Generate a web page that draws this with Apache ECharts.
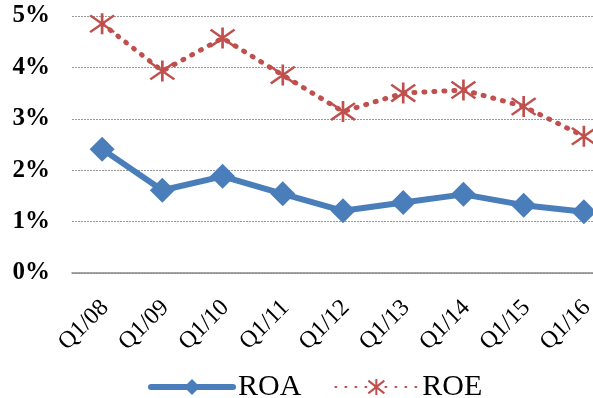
<!DOCTYPE html>
<html>
<head>
<meta charset="utf-8">
<script src="https://cdn.jsdelivr.net/npm/echarts@6/dist/echarts.min.js"></script>
<style>
  html, body { margin: 0; padding: 0; background: #fff; }
  #chart { width: 593px; height: 398px; }
</style>
</head>
<body>
<div id="chart"></div>
<script>
// quarters on the x axis
const quarters = ['Q1/08', 'Q1/09', 'Q1/10', 'Q1/11', 'Q1/12', 'Q1/13', 'Q1/14', 'Q1/15', 'Q1/16'];
// values in percent
const roa = [2.41, 1.61, 1.88, 1.54, 1.21, 1.37, 1.53, 1.32, 1.19];
const roe = [4.85, 3.93, 4.57, 3.85, 3.14, 3.50, 3.56, 3.24, 2.66];

const blue = '#4a7ebb';
const red = '#c0504d';
const serif = '"Liberation Serif", "Times New Roman", serif';

// asterisk marker: X with a vertical bar, drawn as strokes
const starPath = 'path://M0 2 L24 18 M24 2 L0 18 M12 0 L12 20';

const chart = echarts.init(document.getElementById('chart'));

chart.setOption({
  animation: false,
  // the plot runs past the right edge in the original, so let it overflow
  grid: { left: 72, right: -21, top: 16, bottom: 125, outerBoundsMode: 'none' },
  legend: {
    bottom: -9,
    left: 143,
    itemWidth: 82,
    itemHeight: 20,
    itemGap: 33,
    textStyle: { fontFamily: serif, fontSize: 30, color: '#000' },
    data: [
      { name: 'ROA', lineStyle: { width: 6, cap: 'round' } },
      { name: 'ROE' }
    ]
  },
  xAxis: {
    type: 'category',
    data: quarters,
    boundaryGap: true,
    axisLine: { lineStyle: { color: '#888', width: 1.5 } },
    axisTick: { show: false },
    axisLabel: {
      rotate: 45,
      interval: 0,
      margin: 14,
      formatter: '{q|{value}}',
      rich: {
        q: {
          padding: [28, 10, 0, 0],
          fontFamily: serif,
          fontSize: 24,
          color: '#000'
        }
      }
    }
  },
  yAxis: {
    type: 'value',
    min: 0,
    max: 5,
    interval: 1,
    axisLine: { show: false },
    axisTick: { show: false },
    axisLabel: {
      formatter: '{value}%',
      margin: 22,
      fontFamily: serif,
      fontSize: 25,
      fontWeight: 'bold',
      color: '#000'
    },
    splitLine: { lineStyle: { color: '#999', type: [2, 1], width: 1 } }
  },
  series: [
    {
      name: 'ROA',
      type: 'line',
      data: roa,
      symbol: 'diamond',
      symbolSize: 25,
      lineStyle: { color: blue, width: 6 },
      itemStyle: { color: blue }
    },
    {
      name: 'ROE',
      type: 'line',
      data: roe,
      symbol: starPath,
      symbolSize: [24, 21],
      lineStyle: { color: red, width: 5, type: [1, 9], cap: 'round' },
      itemStyle: { color: red, borderColor: red, borderWidth: 2.5 }
    }
  ]
});
</script>
</body>
</html>
